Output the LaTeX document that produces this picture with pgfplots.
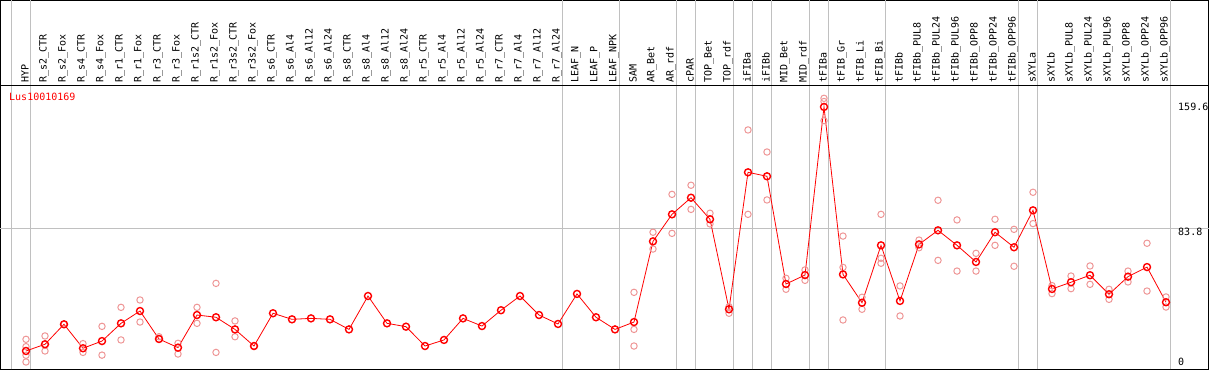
\documentclass[border=0pt]{standalone}
\usepackage{pgfplots}
\pgfplotsset{compat=1.18}
\usepackage{fontspec}
\setmainfont{DejaVu Sans Mono}
\definecolor{mainred}{RGB}{255,0,0}
\definecolor{repred}{RGB}{238,150,150}
\definecolor{gridg}{RGB}{192,192,192}

\pgfplotstableread{
x y
1 6.9
2 11.1
3 23.6
4 8.6
5 13.1
6 24.2
7 31.9
8 14.4
9 9.0
10 29.4
11 28.0
12 20.4
13 10.0
14 30.5
15 26.7
16 27.3
17 26.7
18 20.4
19 41.3
20 24.2
21 22.1
22 10.0
23 13.8
24 27.3
25 22.5
26 32.4
27 41.3
28 29.4
29 23.8
30 42.6
31 28.0
32 20.4
33 25.0
34 75.5
35 92.4
36 102.8
37 89.3
38 33.0
39 118.7
40 116.2
41 48.8
42 54.4
43 159.6
44 54.8
45 37.1
46 73.0
47 38.2
48 73.6
49 82.4
50 73.0
51 62.6
52 81.2
53 71.8
54 94.9
55 45.7
56 49.9
57 54.3
58 42.4
59 53.4
60 59.4
61 37.4
}\meantable

\pgfplotstableread{
x y
1 14.2
1 9.6
1 4.2
1 0.0
2 16.3
2 6.9
2 11.1
3 23.6
3 23.6
4 11.5
4 6.0
5 22.3
5 4.3
6 34.2
6 13.8
7 38.8
7 25.0
8 15.8
8 14.4
9 11.7
9 5.0
10 34.2
10 24.2
11 49.2
11 6.0
12 25.7
12 15.8
13 10.0
13 10.0
33 43.6
33 20.4
33 10.0
34 81.2
34 70.7
35 104.9
35 80.5
36 110.6
36 95.5
37 93.1
37 86.4
38 34.6
38 30.5
39 145.2
39 92.4
40 131.4
40 101.4
41 52.4
41 45.5
42 57.6
42 51.1
43 165.0
43 163.0
43 151.0
44 78.8
44 59.2
44 26.3
45 40.5
45 33.0
46 92.4
46 64.9
46 61.8
47 47.6
47 28.8
48 76.3
48 71.5
49 101.2
49 63.6
50 88.9
50 56.9
51 68.0
51 56.9
52 89.3
52 73.0
53 83.0
53 59.9
54 106.2
54 86.6
55 47.8
55 42.8
56 53.8
56 45.9
57 60.1
57 48.6
58 45.5
58 39.2
59 56.9
59 50.1
60 74.3
60 44.4
61 40.7
61 34.4
}\reptable

\begin{document}
\begin{tikzpicture}
\begin{axis}[
  scale only axis,
  width=1208pt, height=369pt,
  xmin=-0.342, xmax=63.237,
  ymin=-4.69, ymax=226.2,
  axis line style={black, line width=1pt},
  /pgf/number format/assume math mode=true,
  tick style={draw=none},
  major tick length=0pt,
  xtick={1,...,61},
  xticklabels={HYP,R\_s2\_CTR,R\_s2\_Fox,R\_s4\_CTR,R\_s4\_Fox,R\_r1\_CTR,R\_r1\_Fox,R\_r3\_CTR,R\_r3\_Fox,R\_r1s2\_CTR,R\_r1s2\_Fox,R\_r3s2\_CTR,R\_r3s2\_Fox,R\_s6\_CTR,R\_s6\_Al4,R\_s6\_Al12,R\_s6\_Al24,R\_s8\_CTR,R\_s8\_Al4,R\_s8\_Al12,R\_s8\_Al24,R\_r5\_CTR,R\_r5\_Al4,R\_r5\_Al12,R\_r5\_Al24,R\_r7\_CTR,R\_r7\_Al4,R\_r7\_Al12,R\_r7\_Al24,LEAF\_N,LEAF\_P,LEAF\_NPK,SAM,AR\_Bet,AR\_rdf,cPAR,TOP\_Bet,TOP\_rdf,iFIBa,iFIBb,MID\_Bet,MID\_rdf,tFIBa,tFIB\_Gr,tFIB\_Li,tFIB\_Bi,tFIBb,tFIBb\_PUL8,tFIBb\_PUL24,tFIBb\_PUL96,tFIBb\_OPP8,tFIBb\_OPP24,tFIBb\_OPP96,sXYLa,sXYLb,sXYLb\_PUL8,sXYLb\_PUL24,sXYLb\_PUL96,sXYLb\_OPP8,sXYLb\_OPP24,sXYLb\_OPP96},
  xticklabel pos=upper,
  xticklabel style={yshift=-83.5pt, xshift=-1pt, rotate=90, anchor=west, inner sep=1pt, font=\fontsize{10}{12}\selectfont},
  extra x ticks={0.23,1.23,29.23,32.23,35.23,36.23,38.23,39.23,40.23,42.23,43.23,46.23,53.23,54.23,61.23},
  extra x tick labels={},
  extra x tick style={grid=major, major grid style={gridg, line width=1pt}},
  ytick={0,159.6},
  yticklabels={0,159.6},
  yticklabel pos=right,
  yticklabel style={xshift=-30.5pt, anchor=west, inner sep=0pt, font=\fontsize{10}{12}\selectfont},
  extra y ticks={83.8},
  extra y tick labels={83.8},
  extra y tick style={grid=major, major grid style={gridg, line width=1pt}, yticklabel style={yshift=-4pt}},
]
\addplot[only marks, mark=o, mark size=3.2pt, repred, mark options={line width=1pt}] table {\reptable};
\addplot[mainred, line width=0.8pt, mark=o, mark size=3.5pt, mark options={line width=1.4pt}] table {\meantable};
\draw[black, line width=1pt] (axis cs:-0.342,173.3) -- (axis cs:63.237,173.3);
\node[anchor=west, inner sep=0pt, text=mainred, font=\fontsize{10}{12}\selectfont] at (axis cs:0.105,165.8) {Lus10010169};
\end{axis}
\end{tikzpicture}
\end{document}
